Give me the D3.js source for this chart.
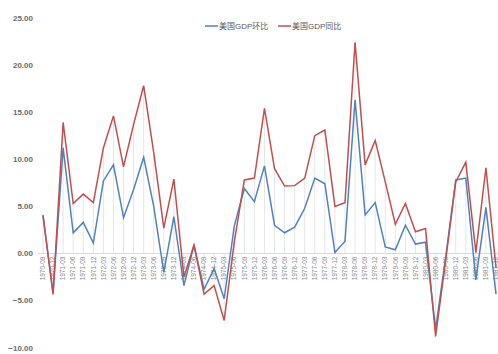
<!DOCTYPE html>
<html>
<head>
<meta charset="utf-8">
<script src="https://cdn.jsdelivr.net/npm/d3@7/dist/d3.min.js"></script>
<style>
  html, body { margin: 0; padding: 0; background: #fff; }
  svg { display: block; }
</style>
</head>
<body>
<svg id="chart" width="498" height="354"></svg>
<script>
// Quarterly US GDP growth, 1970-09 to 1981-12
const quarters = [
  "1970-09","1970-12","1971-03","1971-06","1971-09","1971-12",
  "1972-03","1972-06","1972-09","1972-12","1973-03","1973-06",
  "1973-09","1973-12","1974-03","1974-06","1974-09","1974-12",
  "1975-03","1975-06","1975-09","1975-12","1976-03","1976-06",
  "1976-09","1976-12","1977-03","1977-06","1977-09","1977-12",
  "1978-03","1978-06","1978-09","1978-12","1979-03","1979-06",
  "1979-09","1979-12","1980-03","1980-06","1980-09","1980-12",
  "1981-03","1981-06","1981-09","1981-12"
];

// 环比 (quarter-on-quarter, annualised)
const qoq = [
  4.0, -4.2, 11.2, 2.2, 3.3, 1.1,
  7.7, 9.4, 3.8, 6.8, 10.2, 5.0,
  -2.0, 3.9, -3.4, 0.9, -3.8, -1.6,
  -4.8, 2.9, 6.9, 5.5, 9.3, 3.0,
  2.2, 2.8, 4.8, 8.0, 7.4, 0.1,
  1.3, 16.3, 4.1, 5.4, 0.7, 0.4,
  3.0, 1.0, 1.2, -8.0, -0.4, 7.8,
  8.0, -2.8, 4.9, -4.3
];

// 同比 (year-on-year)
const yoy = [
  4.1, -4.35, 13.9, 5.3, 6.3, 5.4,
  11.2, 14.6, 9.2, 13.7, 17.8, 10.7,
  2.7, 7.9, -2.5, 0.9, -4.3, -3.4,
  -7.1, 1.2, 7.8, 8.0, 15.4, 9.0,
  7.15, 7.2, 8.0, 12.5, 13.1, 5.0,
  5.4, 22.4, 9.4, 12.0, 7.6, 3.1,
  5.3, 2.3, 2.65, -8.8, -0.7, 7.6,
  9.7, 0.1, 9.1, -1.5
];

const yTicks = [-10, -5, 0, 5, 10, 15, 20, 25];

const seriesNames = ["美国GDP环比", "美国GDP同比"];
const seriesColors = ["#5282be", "#c0504d"];

const svg = d3.select("#chart");
const font = "'Liberation Sans', 'Noto Sans CJK SC', sans-serif";

const x = d3.scalePoint().domain(quarters).range([43, 496]);
const y = d3.scaleLinear().domain([-10, 25]).range([347.8, 17.8]);

// y tick labels (no gridlines)
svg.append("g")
  .selectAll("text")
  .data(yTicks)
  .join("text")
  .attr("x", 33)
  .attr("y", d => y(d))
  .attr("dy", "0.35em")
  .attr("text-anchor", "end")
  .attr("font-family", font)
  .attr("font-size", 8)
  .attr("font-weight", "bold")
  .attr("fill", "#6b6b6b")
  .text(d => d3.format(".2f")(d));

// drop lines from each category to the axis
svg.append("g")
  .selectAll("line")
  .data(quarters)
  .join("line")
  .attr("x1", d => x(d))
  .attr("x2", d => x(d))
  .attr("y1", (d, i) => y(Math.max(0, qoq[i], yoy[i])))
  .attr("y2", (d, i) => y(Math.min(0, qoq[i], yoy[i])))
  .attr("stroke", "#e3e6ec")
  .attr("stroke-width", 1);

// category axis line at zero
svg.append("line")
  .attr("x1", 38).attr("x2", 498)
  .attr("y1", y(0)).attr("y2", y(0))
  .attr("stroke", "#d9d9d9")
  .attr("stroke-width", 1);

// rotated category labels
svg.append("g")
  .selectAll("text")
  .data(quarters)
  .join("text")
  .attr("transform", d => `translate(${x(d) + 2.2},${y(0) + 3}) rotate(-90)`)
  .attr("text-anchor", "end")
  .attr("font-family", font)
  .attr("font-size", 6.5)
  .attr("fill", "#8a8a8a")
  .text(d => d);

// series lines
const line = d3.line()
  .x((d, i) => x(quarters[i]))
  .y(d => y(d));

[qoq, yoy].forEach((vals, k) => {
  svg.append("path")
    .datum(vals)
    .attr("d", line)
    .attr("fill", "none")
    .attr("stroke", seriesColors[k])
    .attr("stroke-width", 1.5)
    .attr("stroke-linejoin", "miter");
});

// legend
const legendX = [205, 278];
const legend = svg.append("g");
seriesNames.forEach((name, k) => {
  legend.append("line")
    .attr("x1", legendX[k]).attr("x2", legendX[k] + 13)
    .attr("y1", 26).attr("y2", 26)
    .attr("stroke", seriesColors[k])
    .attr("stroke-width", 1.5);
  legend.append("text")
    .attr("x", legendX[k] + 14)
    .attr("y", 26)
    .attr("dy", "0.35em")
    .attr("font-family", font)
    .attr("font-size", 8)
    .attr("fill", "#595959")
    .text(name);
});
</script>
</body>
</html>
